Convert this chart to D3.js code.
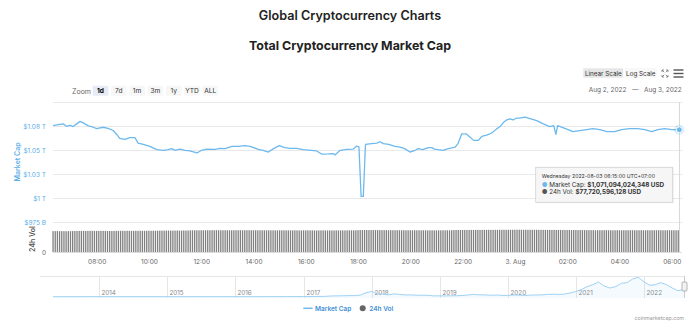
<!DOCTYPE html>
<html><head><meta charset="utf-8">
<script src="https://cdn.jsdelivr.net/npm/d3@7"></script>
<style>
html,body{margin:0;padding:0;background:#fff;}
svg{display:block;font-family:Inter,"Noto Sans",sans-serif;}
</style></head>
<body><svg id="c" width="700" height="336"></svg>
<script>
// ---- Data ----
const capTimes = ["08-02 06:20","08-02 06:32","08-02 06:43","08-02 06:51","08-02 06:59","08-02 07:06","08-02 07:14","08-02 07:22","08-02 07:29","08-02 07:41","08-02 07:52","08-02 08:00","08-02 08:15","08-02 08:26","08-02 08:38","08-02 08:46","08-02 08:53","08-02 09:05","08-02 09:16","08-02 09:28","08-02 09:35","08-02 09:47","08-02 10:02","08-02 10:18","08-02 10:33","08-02 10:44","08-02 10:52","08-02 11:00","08-02 11:11","08-02 11:23","08-02 11:34","08-02 11:50","08-02 12:01","08-02 12:13","08-02 12:32","08-02 12:43","08-02 12:55","08-02 13:10","08-02 13:25","08-02 13:40","08-02 13:52","08-02 14:11","08-02 14:22","08-02 14:34","08-02 14:46","08-02 14:59","08-02 15:12","08-02 15:24","08-02 15:39","08-02 15:54","08-02 16:13","08-02 16:25","08-02 16:37","08-02 16:52","08-02 17:03","08-02 17:07","08-02 17:19","08-02 17:34","08-02 17:49","08-02 17:57","08-02 18:02","08-02 18:07","08-02 18:12","08-02 18:17","08-02 18:31","08-02 18:43","08-02 18:50","08-02 18:58","08-02 19:10","08-02 19:25","08-02 19:36","08-02 19:47","08-02 19:59","08-02 20:11","08-02 20:18","08-02 20:29","08-02 20:41","08-02 20:49","08-02 20:56","08-02 21:04","08-02 21:16","08-02 21:23","08-02 21:35","08-02 21:43","08-02 21:50","08-02 21:58","08-02 22:08","08-02 22:17","08-02 22:25","08-02 22:36","08-02 22:44","08-02 22:55","08-02 23:07","08-02 23:18","08-02 23:26","08-02 23:34","08-02 23:41","08-02 23:49","08-02 23:56","08-03 00:04","08-03 00:11","08-03 00:23","08-03 00:35","08-03 00:50","08-03 01:04","08-03 01:20","08-03 01:29","08-03 01:34","08-03 01:38","08-03 01:50","08-03 02:02","08-03 02:13","08-03 02:29","08-03 02:45","08-03 02:59","08-03 03:15","08-03 03:31","08-03 03:49","08-03 04:05","08-03 04:23","08-03 04:42","08-03 04:58","08-03 05:14","08-03 05:28","08-03 05:44","08-03 06:00","08-03 06:15"];
// market cap, billions USD
const capValues = [1075.4,1076.4,1077.2,1074.7,1075.7,1074.4,1077.2,1079.8,1078.2,1075.1,1073.7,1072.3,1073.7,1072.6,1070.3,1066.2,1062.1,1061.1,1062.8,1062.8,1057.2,1055.9,1053.8,1050.4,1049.7,1050.4,1051.4,1049.7,1051.0,1049.7,1049.0,1046.9,1049.7,1051.0,1050.7,1051.7,1051.4,1053.8,1053.8,1054.5,1053.8,1050.7,1049.7,1047.9,1051.4,1054.5,1052.5,1051.7,1051.7,1050.4,1049.7,1049.0,1045.6,1045.9,1046.3,1044.9,1049.7,1050.7,1051.0,1054.1,1053.3,1001.6,1001.6,1055.9,1056.6,1057.2,1058.6,1056.6,1055.9,1053.8,1053.1,1051.4,1047.9,1049.7,1051.4,1050.4,1052.5,1052.5,1051.0,1050.4,1049.7,1051.0,1052.1,1053.1,1057.2,1066.9,1066.9,1063.4,1060.0,1060.0,1064.1,1065.4,1067.7,1072.0,1074.4,1078.8,1081.3,1082.3,1081.3,1083.3,1083.3,1084.2,1082.6,1080.6,1077.5,1074.4,1075.4,1066.2,1075.4,1073.3,1071.3,1069.2,1070.2,1071.3,1072.3,1071.3,1069.2,1069.2,1071.3,1072.3,1072.3,1071.3,1069.2,1071.3,1072.3,1071.3,1071.1];

// 24h volume, billions USD, one bar every 5 minutes from Aug 2 06:20 (12 per row)
const volStart = "08-02 06:20";
const volValues = [
74.6,74.5,74.7,74.4,74.6,74.5,74.3,74.6,74.5,74.8,75.1,75.3,
75.4,75.2,75.5,75.3,75.4,75.6,75.5,75.4,75.3,75.5,75.6,75.4,
75.5,75.3,75.2,74.8,75.4,75.6,75.5,75.7,75.6,75.5,75.8,75.6,
75.7,75.6,75.8,75.7,75.9,75.8,75.7,75.9,76.0,75.8,75.9,76.1,
76.2,76.4,76.3,76.5,76.4,76.6,76.5,76.4,76.6,76.7,76.5,76.6,
76.8,76.7,76.9,77.3,77.5,77.4,77.6,77.5,77.7,77.6,77.8,77.7,
77.6,77.8,77.7,77.9,77.8,77.6,77.7,77.9,77.8,77.7,77.6,77.8,
77.7,77.9,77.8,77.6,77.7,77.8,77.9,77.7,77.6,77.8,77.7,77.5,
77.6,77.4,77.5,77.7,77.6,77.5,77.3,77.4,77.6,77.5,77.4,77.3,
77.4,77.2,77.3,77.5,77.4,77.2,77.1,77.3,77.2,77.4,77.3,77.1,
77.2,77.0,77.1,77.3,77.2,77.0,77.1,77.2,77.0,77.1,77.3,77.2,
77.3,77.1,77.2,77.4,77.3,77.5,77.4,77.6,78.2,78.4,78.3,78.5,
78.4,78.3,78.5,78.4,78.2,78.3,78.1,78.2,78.0,78.1,77.9,78.0,
77.9,77.8,78.0,77.9,77.7,77.8,77.6,77.7,77.8,77.6,77.7,77.5,
77.6,77.5,77.7,77.6,77.4,77.5,77.6,77.4,77.5,77.3,77.4,77.6,
77.5,77.7,77.6,77.8,78.3,78.6,78.5,78.7,78.6,78.8,78.7,78.9,
78.8,78.7,78.9,79.0,78.8,79.1,79.0,78.9,79.2,79.1,79.0,79.2,
79.1,79.3,79.2,79.4,79.3,79.5,79.4,79.3,79.5,79.4,79.6,79.5,
79.4,79.5,79.3,79.4,79.2,79.3,79.1,79.2,79.0,79.1,78.9,79.0,
78.9,78.8,79.0,78.8,78.7,78.9,78.6,78.7,78.5,78.6,78.4,78.5,
78.4,78.3,78.5,78.2,78.3,78.1,78.2,78.0,78.1,77.9,78.0,77.8,
77.9,77.8,78.0,77.7,77.8,77.6,77.7,77.9,77.8,77.6,77.7,77.8,
77.7,77.9,77.8,77.6,77.7,77.8,77.9,77.7,77.6,77.8,77.7,77.9,
77.8,77.7,77.9,77.8,77.6,77.7,77.8,77.9,77.7,77.8,77.6,77.7];

const capTicks = [975, 1000, 1025, 1050, 1075];
const capTickLabels = ["$975 B", "$1 T", "$1.03 T", "$1.05 T", "$1.08 T"];
const volTicks = [0];
const volTickLabels = ["0"];

// navigator: total market cap history (monthly, billions)
const navDates = ["2013-04-28","2013-07","2013-10","2013-12","2014-01","2014-04","2014-07","2014-10","2015-01","2015-04","2015-07","2015-10","2016-01","2016-04","2016-07","2016-10","2017-01","2017-03","2017-05","2017-06","2017-08","2017-09","2017-10","2017-11","2017-12","2018-01","2018-02","2018-03","2018-04","2018-05","2018-06","2018-07","2018-08","2018-09","2018-10","2018-11","2018-12","2019-01","2019-02","2019-03","2019-04","2019-05","2019-06","2019-07","2019-08","2019-09","2019-10","2019-11","2019-12","2020-01","2020-02","2020-03","2020-04","2020-05","2020-06","2020-07","2020-08","2020-09","2020-10","2020-11","2020-12","2021-01","2021-02","2021-03","2021-04","2021-05","2021-06","2021-07","2021-08","2021-09","2021-10","2021-11","2021-12","2022-01","2022-02","2022-03","2022-04","2022-05","2022-06","2022-07","2022-08-03"];
const navValues = [1.5,1.2,2.0,12,11,6,8,5.5,4,3.5,4.5,4.5,7,8,11,12,17,24,60,110,140,160,170,230,580,800,450,400,270,420,330,270,270,210,220,210,120,130,115,135,145,180,260,340,280,270,215,250,200,190,250,240,190,240,260,270,350,370,340,400,550,780,1100,1500,1800,2200,1600,1300,1500,2000,2100,2650,2900,2200,1700,1800,2100,1800,1300,900,1070];
const navYears = ["2014","2015","2016","2017","2018","2019","2020","2021","2022"];

const zoomButtons = ["1d","7d","1m","3m","1y","YTD","ALL"];
const legendItems = ["Market Cap","24h Vol"];

// ---- Drawing ----
const svg = d3.select("#c");
const parseT = d3.timeParse("%Y-%m-%d %H:%M");
const pt = s => parseT("2022-" + s);
const capData = capTimes.map((t,i)=>({t:pt(t), v:capValues[i]}));
const v0 = pt(volStart);
const volData = volValues.map((v,i)=>({t:d3.timeMinute.offset(v0, 5*i), v}));

const LEFT = 53, RIGHT = 682;
const x = d3.scaleTime().domain([pt("08-02 06:20"), pt("08-03 06:15")]).range([53.1, 678.3]);
const y = d3.scaleLinear().domain([975, 1100]).range([222, 102]);
const yv = d3.scaleLinear().domain([0, 100]).range([252, 224]);

const BLUE = "#6db9ee";
const LABEL_BLUE = "#5aaee9";

// titles
svg.append("text").attr("x",350).attr("y",20).attr("text-anchor","middle")
  .attr("font-size",12.6).attr("font-weight",600).attr("fill","#222").text("Global Cryptocurrency Charts");
svg.append("text").attr("x",350).attr("y",50).attr("text-anchor","middle")
  .attr("font-size",12.4).attr("font-weight",700).attr("fill","#222").text("Total Cryptocurrency Market Cap");

// range selector
svg.append("text").attr("x",81.5).attr("y",93.5).attr("text-anchor","middle")
  .attr("font-size",7).attr("fill","#666").text("Zoom");
const zb = svg.append("g").selectAll("g").data(zoomButtons).join("g")
  .attr("transform",(d,i)=>`translate(${92.7+i*18.3},85.7)`);
zb.append("rect").attr("width",15.6).attr("height",10).attr("rx",1)
  .attr("fill",(d,i)=>i===0?"#e6ebf5":"#f7f7f7");
zb.append("text").attr("x",7.8).attr("y",7.6).attr("text-anchor","middle")
  .attr("font-size",6.6).attr("font-weight",(d,i)=>i===0?700:400)
  .attr("fill",(d,i)=>i===0?"#000":"#333").text(d=>d);

// scale buttons
svg.append("rect").attr("x",583.3).attr("y",68.3).attr("width",40).attr("height",9.5).attr("fill","#e6e6e6");
svg.append("text").attr("x",603.3).attr("y",75.6).attr("text-anchor","middle").attr("font-size",6.3).attr("fill","#333").text("Linear Scale");
svg.append("rect").attr("x",625).attr("y",68.3).attr("width",31.7).attr("height",9.5).attr("fill","#f7f7f7");
svg.append("text").attr("x",640.8).attr("y",75.6).attr("text-anchor","middle").attr("font-size",6.3).attr("fill","#333").text("Log Scale");
// fullscreen icon
const fs = svg.append("g").attr("stroke","#777").attr("stroke-width",0.8).attr("fill","none");
[[662,70,1,1],[668,70,-1,1],[662,77,1,-1],[668,77,-1,-1]].forEach(([a,b,sx,sy])=>{
  fs.append("path").attr("d",`M${a},${b+2*sy}L${a},${b}L${a+2*sx},${b}M${a},${b}L${a+2.2*sx},${b+2.2*sy}`);
});
// hamburger
[70,73.5,77].forEach(yy=>svg.append("rect").attr("x",673.5).attr("y",yy-0.7).attr("width",10).attr("height",1.4).attr("fill","#555"));
svg.append("text").attr("x",681.7).attr("y",91.5).attr("text-anchor","end").attr("font-size",6.5).attr("fill","#666")
  .attr("xml:space","preserve").text("Aug 2, 2022   —   Aug 3, 2022");

// grid
const grid = svg.append("g").attr("stroke","#e9e9e9").attr("stroke-width",1);
[...capTicks, 1100].forEach(v=>grid.append("line").attr("x1",LEFT).attr("x2",RIGHT).attr("y1",Math.round(y(v))+0.5).attr("y2",Math.round(y(v))+0.5));

// y axis (cap)
const yAxis = d3.axisLeft(y).tickValues(capTicks).tickFormat((d,i)=>capTickLabels[i]).tickSize(0).tickPadding(0);
const ya = svg.append("g").attr("transform","translate(46,0)").call(yAxis);
ya.select(".domain").remove();
ya.selectAll("text").attr("font-size",6.5).attr("fill",LABEL_BLUE).attr("font-family","Inter,sans-serif").attr("dy","0.35em");
svg.append("text").attr("transform","translate(20,162) rotate(-90)").attr("text-anchor","middle")
  .attr("font-size",7).attr("font-weight",600).attr("fill",LABEL_BLUE).text("Market Cap");

// vol axis
const yvAxis = d3.axisLeft(yv).tickValues(volTicks).tickFormat((d,i)=>volTickLabels[i]).tickSize(0).tickPadding(0);
const yva = svg.append("g").attr("transform","translate(46,0)").call(yvAxis);
yva.select(".domain").remove();
yva.selectAll("text").attr("font-size",6.5).attr("fill","#666").attr("font-family","Inter,sans-serif").attr("dy","0.35em");
svg.append("text").attr("transform","translate(35,239) rotate(-90)").attr("text-anchor","middle")
  .attr("font-size",7).attr("font-weight",600).attr("fill","#555").text("24h Vol");

// volume bars
svg.append("g").selectAll("rect").data(volData).join("rect")
  .attr("x",d=>x(d.t)-0.7).attr("width",1.3)
  .attr("y",d=>yv(d.v)).attr("height",d=>yv(0)-yv(d.v)).attr("fill","#808080");

// x axis
svg.append("line").attr("x1",LEFT).attr("x2",RIGHT).attr("y1",252.5).attr("y2",252.5).attr("stroke","#ddd");
const fmtX = d => (d.getHours()===0 ? d3.timeFormat("%-d. %b")(d) : d3.timeFormat("%H:%M")(d));
const xAxis = d3.axisBottom(x).ticks(d3.timeHour.every(2)).tickFormat(fmtX).tickSize(0).tickPadding(0);
const xa = svg.append("g").attr("transform","translate(0,252)").call(xAxis);
xa.select(".domain").remove();
xa.selectAll("text").attr("font-size",6.5).attr("fill","#666").attr("font-family","Inter,sans-serif").attr("dy","11.5");

// crosshair
svg.append("line").attr("x1",679.5).attr("x2",679.5).attr("y1",102).attr("y2",252).attr("stroke","#d8d8d8").attr("stroke-width",1);

// cap line
const line = d3.line().x(d=>x(d.t)).y(d=>y(d.v));
svg.append("path").datum(capData).attr("d",line).attr("fill","none").attr("stroke",BLUE).attr("stroke-width",1.3).attr("stroke-linejoin","round");

// marker
const last = capData[capData.length-1];
svg.append("circle").attr("cx",x(last.t)+1).attr("cy",y(last.v)).attr("r",5).attr("fill",BLUE).attr("opacity",0.25);
svg.append("circle").attr("cx",x(last.t)+1).attr("cy",y(last.v)).attr("r",3).attr("fill",BLUE).attr("stroke","#fff").attr("stroke-width",1);

// tooltip
const tt = svg.append("g").attr("transform","translate(535.7,167.3)");
tt.append("rect").attr("x",1).attr("y",1).attr("width",137).attr("height",35).attr("fill","#000").attr("opacity",0.05);
tt.append("rect").attr("width",137).attr("height",35).attr("fill","#f7f7f7").attr("stroke","#cfcfcf").attr("stroke-width",0.8).attr("opacity",0.95);
tt.append("text").attr("x",6).attr("y",10.5).attr("font-size",5.2).attr("fill","#333").text("Wednesday 2022-08-03 06:15:00 UTC+07:00");
const l2 = tt.append("text").attr("x",6).attr("y",19.3).attr("font-size",6.3).attr("fill","#333");
l2.append("tspan").attr("fill",BLUE).text("● ");
l2.append("tspan").text("Market Cap: ");
l2.append("tspan").attr("font-weight",700).text("$1,071,094,024,348 USD");
const l3 = tt.append("text").attr("x",6).attr("y",27).attr("font-size",6.3).attr("fill","#333");
l3.append("tspan").attr("fill","#555").text("● ");
l3.append("tspan").text("24h Vol: ");
l3.append("tspan").attr("font-weight",700).text("$77,720,596,128 USD");

// navigator
const parseD = s => s.length===7 ? d3.timeParse("%Y-%m")(s) : d3.timeParse("%Y-%m-%d")(s);
const navData = navDates.map((d,i)=>({t:parseD(d), v:navValues[i]}));
const nx = d3.scaleTime().domain([parseD("2013-04-28"), parseD("2022-08-03")]).range([53, 684]);
const ny = d3.scaleLinear().domain([0, 2900]).range([296.7, 277.3]);
svg.append("line").attr("x1",40).attr("x2",684).attr("y1",276.5).attr("y2",276.5).attr("stroke","#e6e6e6");
const ng = svg.append("g");
navYears.forEach(yr=>{
  const xx = Math.round(nx(d3.timeParse("%Y")(yr)))+0.5;
  ng.append("line").attr("x1",xx).attr("x2",xx).attr("y1",276).attr("y2",298).attr("stroke","#e6e6e6");
  ng.append("text").attr("x",xx+2).attr("y",295).attr("font-size",6.3).attr("fill","#888").text(yr);
});
svg.append("path").datum(navData).attr("d",d3.area().x(d=>nx(d.t)).y0(298).y1(d=>ny(d.v)))
  .attr("fill",BLUE).attr("opacity",0.08);
svg.append("path").datum(navData).attr("d",d3.line().x(d=>nx(d.t)).y(d=>ny(d.v)))
  .attr("fill","none").attr("stroke","#9fd2f4").attr("stroke-width",1);
svg.append("line").attr("x1",684.5).attr("x2",684.5).attr("y1",276).attr("y2",298).attr("stroke","#ccc");
svg.append("rect").attr("x",682).attr("y",282).attr("width",5).attr("height",9).attr("rx",1).attr("fill","#f2f2f2").attr("stroke","#999").attr("stroke-width",0.7);

// legend
svg.append("line").attr("x1",303.3).attr("x2",312.7).attr("y1",308.3).attr("y2",308.3).attr("stroke",BLUE).attr("stroke-width",1.5);
svg.append("text").attr("x",315).attr("y",310.6).attr("font-size",6.5).attr("font-weight",600).attr("fill","#3f8fd8").text(legendItems[0]);
svg.append("circle").attr("cx",362.7).attr("cy",308.3).attr("r",3).attr("fill","#666");
svg.append("text").attr("x",369.3).attr("y",310.6).attr("font-size",6.5).attr("font-weight",600).attr("fill","#3f8fd8").text(legendItems[1]);

// credit
svg.append("text").attr("x",684).attr("y",319.5).attr("text-anchor","end").attr("font-size",5.3).attr("fill","#999").text("coinmarketcap.com");
</script></body></html>
